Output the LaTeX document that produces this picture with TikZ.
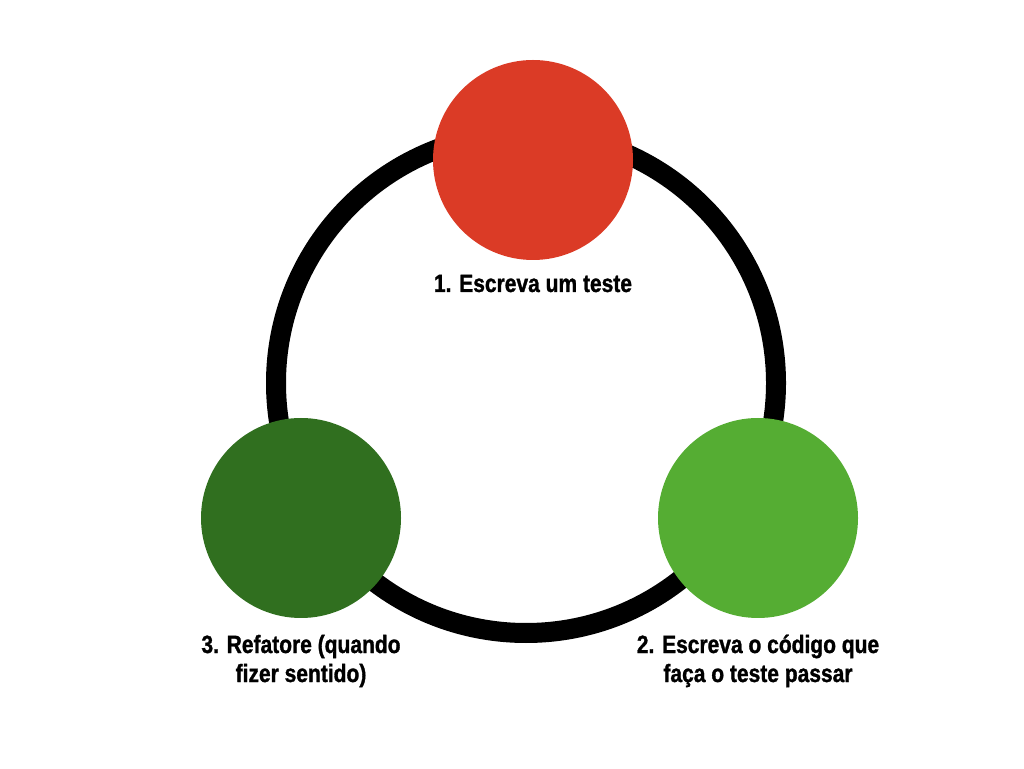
\documentclass[tikz,border=0pt]{standalone}
\usepackage{fontspec}
\setmainfont{Liberation Sans}[FakeStretch=0.84]
\newfontfamily\lblfont{Liberation Sans Bold}[FakeStretch=0.84,FakeBold=1.2]
\definecolor{tddred}{HTML}{DB3B26}
\definecolor{tdddark}{HTML}{306F1F}
\definecolor{tddlight}{HTML}{55AD33}
\begin{document}
\begin{tikzpicture}[x=1pt,y=1pt,
  stage/.style={circle,minimum size=200pt,inner sep=0pt,draw=none},
  lbl/.style={font=\lblfont\fontsize{25}{29}\selectfont,align=center,inner sep=0pt,text=black}]
\useasboundingbox (0,0) rectangle (1024,768);
\coordinate (c) at (526,385);
\draw[line width=20pt,black] (c) circle[radius=250];
\node[stage,fill=tddred] (s1) at (533,608) {};
\node[stage,fill=tddlight] (s2) at (758,250) {};
\node[stage,fill=tdddark] (s3) at (301,250) {};
\node[lbl,anchor=base] (l1) at (533,476) {1. Escreva um teste};
\node[lbl,anchor=base] (l2) at (758,86) {2. Escreva o código que\\faça o teste passar};
\node[lbl,anchor=base] (l3) at (301,86) {3. Refatore (quando\\fizer sentido)};
\end{tikzpicture}
\end{document}
